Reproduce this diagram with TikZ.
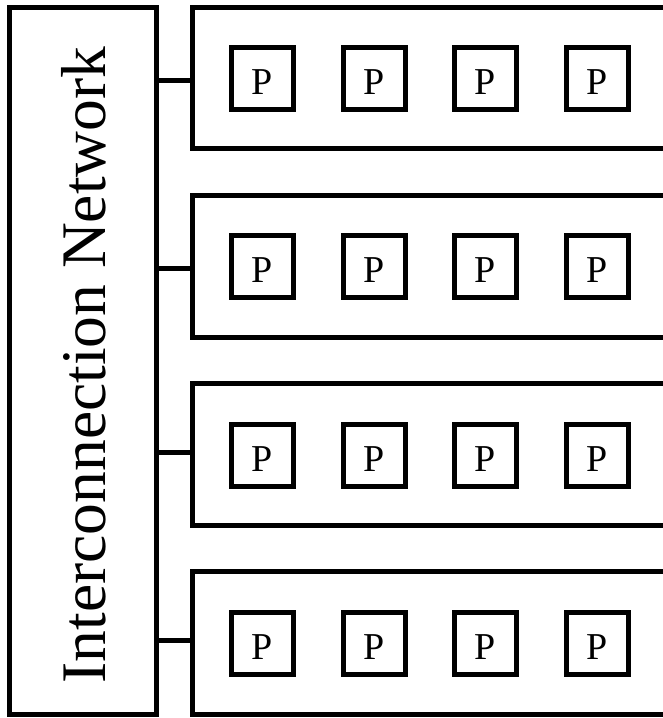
\documentclass[tikz,border=0pt]{standalone}
\usepackage{fontspec}
\setmainfont{Liberation Serif}
\begin{document}
\begin{tikzpicture}[x=1pt,y=-1pt,
  box/.style={draw,line width=5pt,inner sep=0pt},
  pbox/.style={box,minimum width=62pt,minimum height=62pt,text height=33pt,text depth=0pt,font=\fontsize{38}{38}\selectfont},
  rowbox/.style={box,minimum width=508pt,minimum height=141pt},
  link/.style={line width=5pt}]
\useasboundingbox (0,0) rectangle (663,718);
\node[box,minimum width=146.5pt,minimum height=707pt] (net) at (82.75,360.5) {};
\node[rotate=90,font=\fontsize{63.5}{64}\selectfont] (lbl) at (84,365) {Interconnection Network};
\foreach \i/\t/\b in {1/7/148,2/195/337,3/383/525,4/571/714}{
  \node[rowbox,minimum height={\b-\t}] (row\i) at (446,{(\t+\b)/2}) {};
}
\foreach \i/\y in {1/78,2/266,3/455,4/643}{
  \foreach \j/\x in {1/262.5,2/374,3/485,4/597}{
    \node[pbox] (p\i\j) at (\x,\y) {P};
  }
}
\foreach \i/\y in {1/80,2/268,3/452,4/640}{
  \coordinate (c\i) at (192,\y);
  \draw[link] (net.east |- c\i) -- (c\i);
}
\end{tikzpicture}
\end{document}
